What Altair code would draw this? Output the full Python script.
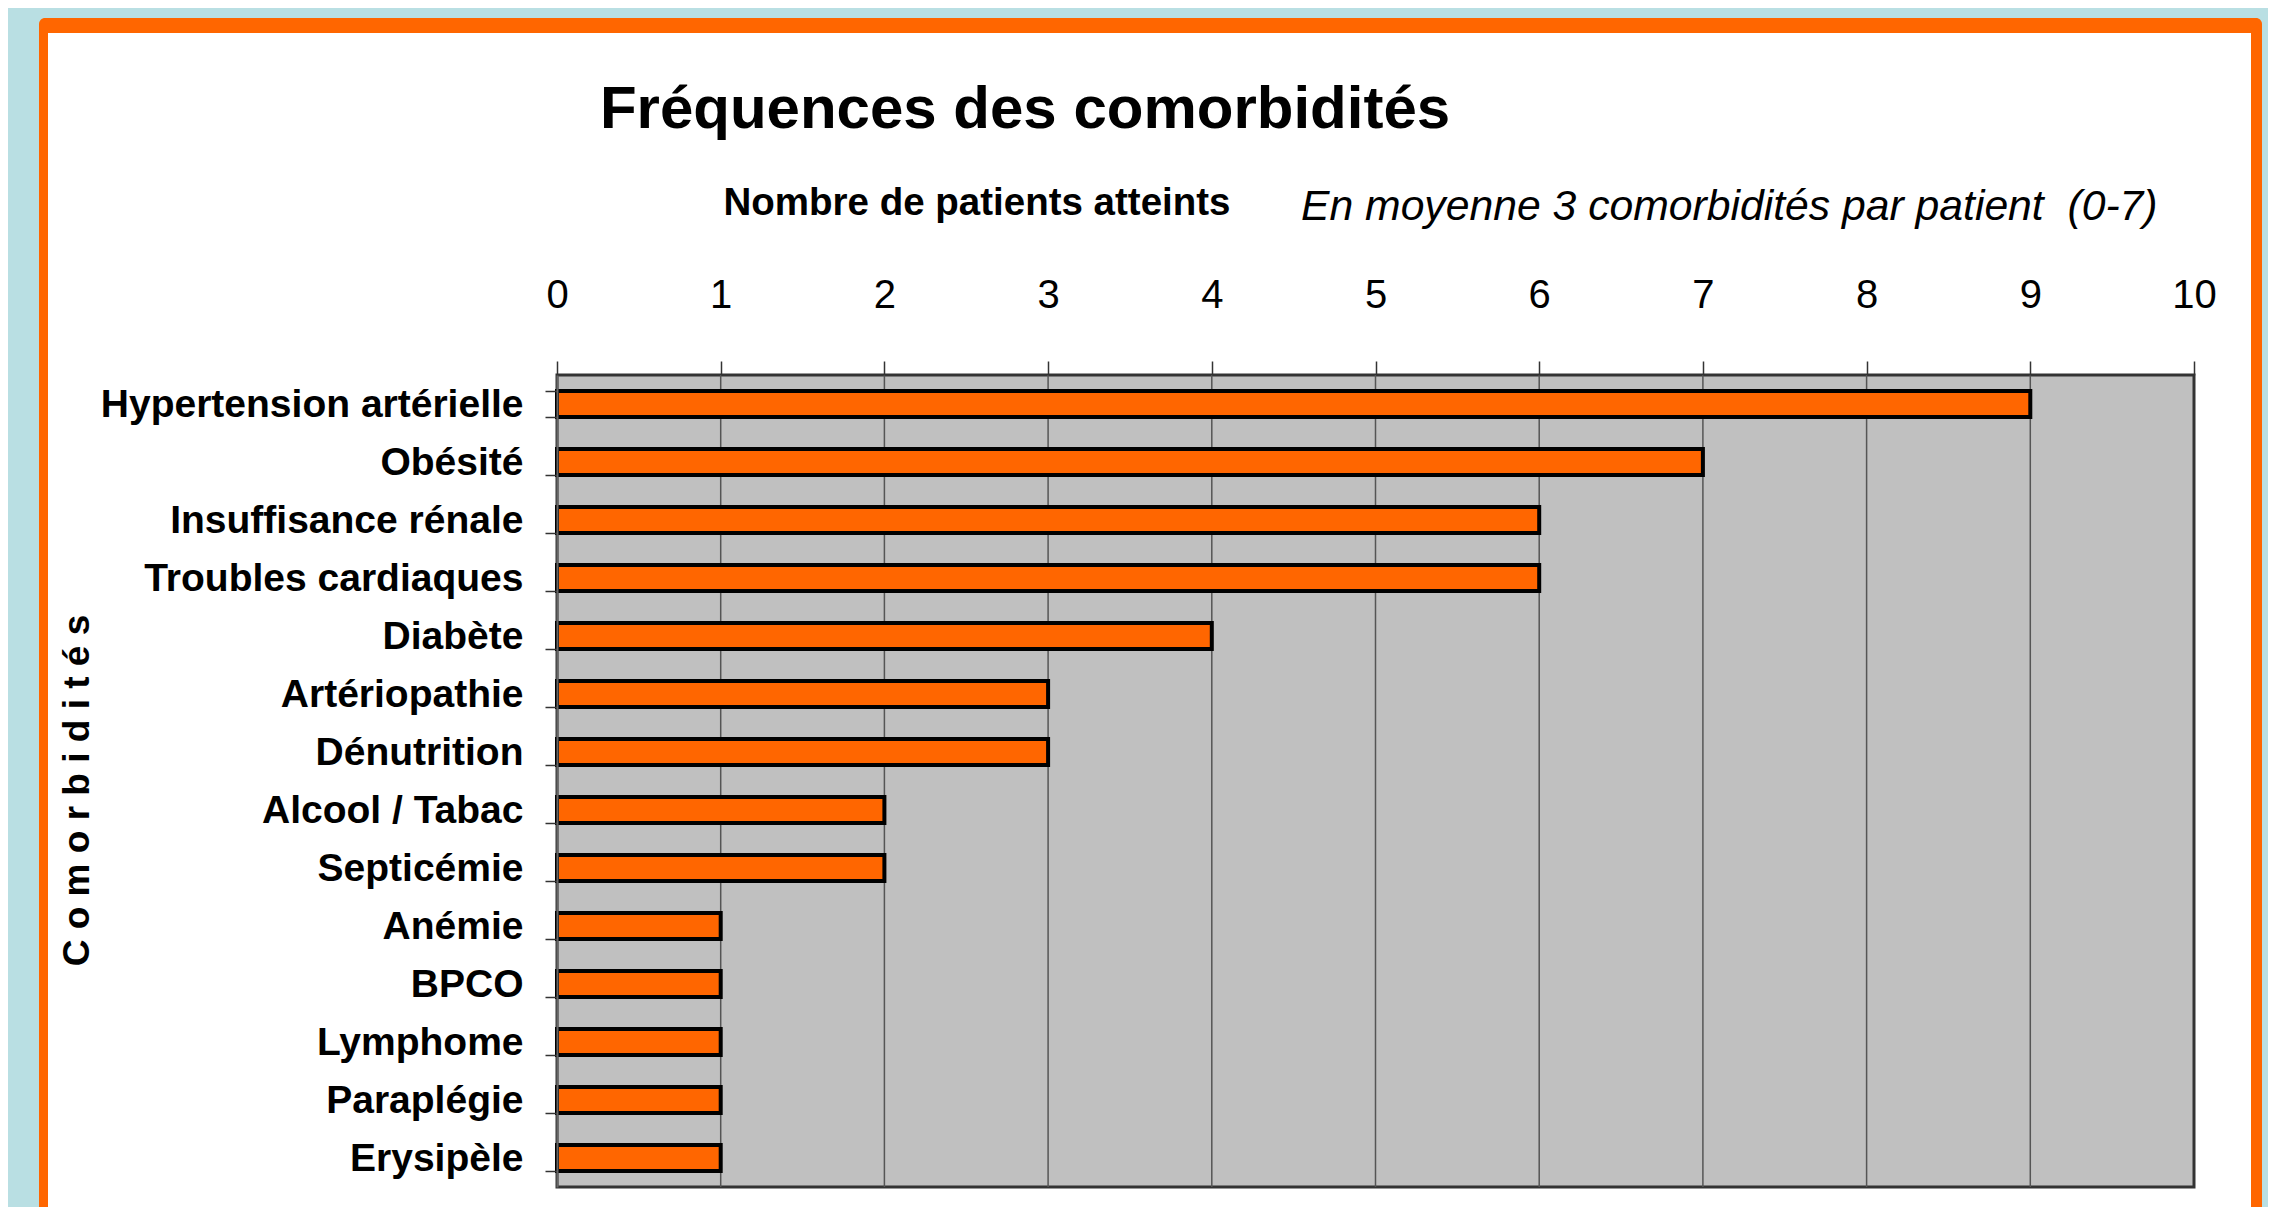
import altair as alt
import pandas as pd

# ---- data ----
categories = [
    "Hypertension artérielle", "Obésité", "Insuffisance rénale",
    "Troubles cardiaques\u00a0", "Diabète", "Artériopathie", "Dénutrition",
    "Alcool / Tabac", "Septicémie", "Anémie", "BPCO", "Lymphome",
    "Paraplégie", "Erysipèle",
]
patients = [9, 7, 6, 6, 4, 3, 3, 2, 2, 1, 1, 1, 1, 1]
x_ticks = [0, 1, 2, 3, 4, 5, 6, 7, 8, 9, 10]

title_text = "Fréquences des comorbidités"
x_title = "Nombre de patients atteints"
y_title = "C o m o r b i d i t é s"
note_text = "En moyenne 3 comorbidités par patient\u00a0 (0-7)"

df = pd.DataFrame({"cat": categories, "n": patients})
grid_df = pd.DataFrame({"v": x_ticks[1:-1]})
one = pd.DataFrame({"k": [0]})

# ---- styling ----
W, H = 1637, 812
FONT = "Liberation Sans, Arial, sans-serif"
ORANGE = "#ff6600"
GRAY = "#c0c0c0"
BLUE = "#b9dfe3"

x_axis = alt.Axis(
    orient="top", values=x_ticks, grid=False, domain=False,
    ticks=True, tickSize=14, tickColor="#333333", tickWidth=1.5,
    labelFont=FONT, labelFontSize=40, labelColor="#000000",
    labelPadding=54, labelBaseline="alphabetic", labelFlush=False,
    title=x_title, titleFont=FONT, titleFontSize=38.5, titleFontWeight="bold",
    titleColor="#000000", titleX=166, titleY=-161, titleAlign="left",
    titleAnchor="start", titleBaseline="alphabetic", zindex=2,
)
x_scale = alt.Scale(domain=[0, 10], nice=False, zero=True)

frame_orange = alt.Chart(one).mark_rect(color=ORANGE, cornerRadius=6).encode(
    x=alt.value(-518), x2=alt.value(1705), y=alt.value(-357), y2=alt.value(900)
)
frame_white = alt.Chart(one).mark_rect(color="#ffffff").encode(
    x=alt.value(-509), x2=alt.value(1694), y=alt.value(-342), y2=alt.value(900)
)
plot_bg = alt.Chart(one).mark_rect(fill=GRAY, stroke="#333333", strokeWidth=3).encode(
    x=alt.value(0), x2=alt.value(W), y=alt.value(0), y2=alt.value(H)
)
grid = alt.Chart(grid_df).mark_rule(color="#555555", strokeWidth=1.5).encode(
    x=alt.X("v:Q", scale=x_scale, axis=x_axis), y=alt.value(0), y2=alt.value(H)
)

bars = alt.Chart(df).mark_bar(
    fill=ORANGE, stroke="#000000", strokeWidth=4
).encode(
    x=alt.X("n:Q", scale=x_scale, axis=x_axis),
    y=alt.Y(
        "cat:N", sort=categories,
        scale=alt.Scale(paddingInner=0.55, paddingOuter=0.275),
        axis=alt.Axis(
            orient="left", tickBand="extent", domain=True, domainColor="#666666",
            domainWidth=2, ticks=True, tickSize=12, tickColor="#333333", tickWidth=1.5,
            labelFont=FONT, labelFontSize=39, labelFontWeight="bold",
            labelColor="#000000", labelPadding=22, labelLimit=0,
            title=y_title, titleFont=FONT, titleFontSize=37, titleFontWeight="bold",
            titleColor="#000000", titleAngle=270, titleX=-480, titleY=415,
            titleAlign="center", titleBaseline="middle", zindex=2,
        ),
    ),
)

title_mark = alt.Chart(one).mark_text(
    font=FONT, fontSize=60, fontWeight="bold", color="#000000",
    align="center", baseline="alphabetic",
).encode(x=alt.value(468), y=alt.value(-247), text=alt.value(title_text))

note_mark = alt.Chart(one).mark_text(
    font=FONT, fontSize=42.7, fontStyle="italic", color="#000000",
    align="left", baseline="alphabetic",
).encode(x=alt.value(744), y=alt.value(-155), text=alt.value(note_text))

chart = alt.layer(
    frame_orange, frame_white, plot_bg, grid, bars, title_mark, note_mark
).properties(
    width=W, height=H,
    autosize=alt.AutoSizeParams(type="none"),
    padding={"left": 549, "top": 367, "right": 74, "bottom": 20},
    background=BLUE,
).configure_view(stroke=None, fill=None)

chart.save("out.html", embed_options={"renderer": "svg", "actions": False})
